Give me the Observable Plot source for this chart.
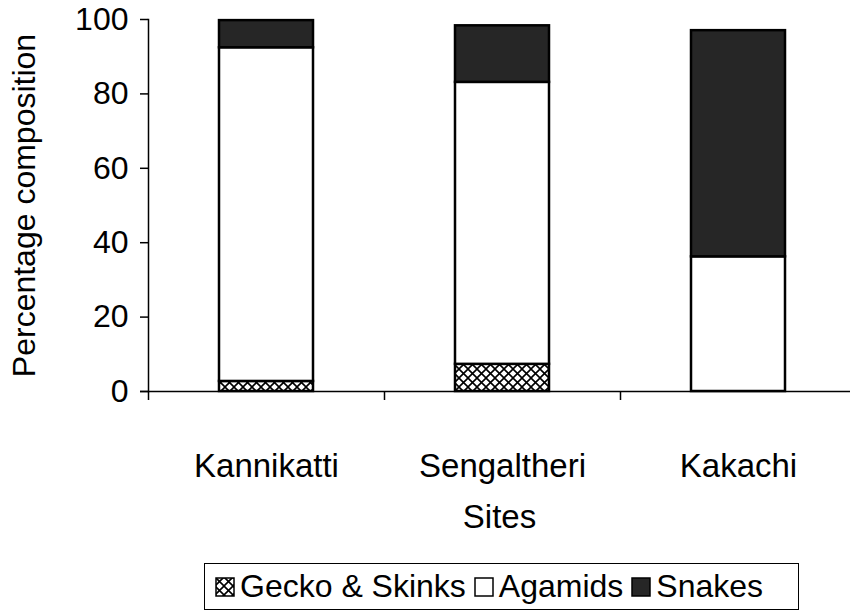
<!DOCTYPE html>
<html>
<head>
<meta charset="utf-8">
<script src="https://cdn.jsdelivr.net/npm/d3@7"></script>
<script src="https://cdn.jsdelivr.net/npm/@observablehq/plot@0.6"></script>
<style>
  html, body { margin: 0; padding: 0; background: white; }
  body { position: relative; width: 850px; height: 616px; overflow: hidden; font-family: "Liberation Sans", Arial, sans-serif; }
  #chart svg { display: block; }
  #legend {
    position: absolute; left: 204px; top: 563px; width: 583px; height: 45px;
    border: 1.5px solid black; box-sizing: content-box;
    display: flex; align-items: center; padding-left: 10px;
    font-size: 32px; color: black; white-space: nowrap;
  }
  .item { display: flex; align-items: center; margin-right: 8px; }
  .item svg { margin-right: 5px; display: block; }
</style>
</head>
<body>
<div id="chart"></div>
<div id="legend"></div>
<script>
// Data
const sites = ["Kannikatti", "Sengaltheri", "Kakachi"];
const species = ["Gecko & Skinks", "Agamids", "Snakes"];
const gecko = [2.7, 7.3, 0];
const agamids = [89.7, 75.8, 36.2];
const snakes = [7.3, 15.2, 60.8];
const yTicks = [0, 20, 40, 60, 80, 100];

const fills = ["url(#hatch)", "white", "#262626"];

const series = [gecko, agamids, snakes];
const data = [];
sites.forEach((site, i) => {
  species.forEach((sp, j) => data.push({site, species: sp, value: series[j][i]}));
});

const xRange = [148, 856];
const step = (xRange[1] - xRange[0]) / sites.length;

const chart = Plot.plot({
  width: 850,
  height: 563,
  marginLeft: 148,
  marginRight: 0,
  marginTop: 19,
  marginBottom: 172,
  style: {fontFamily: "'Liberation Sans', Arial, sans-serif", fontSize: "33px", color: "black", background: "white"},
  x: {type: "band", domain: sites, range: xRange, paddingInner: 0.6, paddingOuter: 0.3},
  y: {domain: [0, 100]},
  color: {domain: species, range: fills},
  marks: [
    Plot.barY(data, {x: "site", y: "value", fill: "species", stroke: "black", strokeWidth: 2.5}),
    Plot.frame({anchor: "left", stroke: "black", strokeWidth: 1.5}),
    Plot.ruleY([0], {stroke: "black", strokeWidth: 1.5, insetLeft: -8}),
    Plot.axisY(yTicks, {
      tickSize: 8, tickPadding: 12, fontSize: 32, strokeWidth: 1.5,
      label: "Percentage composition", labelAnchor: "center", labelArrow: "none", labelOffset: 136
    }),
    Plot.axisX({tickSize: 0, tickPadding: 62, fontSize: 33,
      label: "Sites", labelAnchor: "center", labelOffset: 136}),
    Plot.axisX({tickSize: 9, strokeWidth: 1.5, dx: -step / 2, text: null, label: null})
  ]
});

// hatch pattern for Gecko & Skinks
const defs = d3.select(chart).insert("defs", ":first-child");
const pat = defs.append("pattern").attr("id", "hatch")
  .attr("patternUnits", "userSpaceOnUse").attr("width", 9).attr("height", 9);
pat.append("rect").attr("width", 9).attr("height", 9).attr("fill", "white");
pat.append("path").attr("d", "M0,0L9,9M9,0L0,9").attr("stroke", "black").attr("stroke-width", 1.6);

document.getElementById("chart").appendChild(chart);

// legend
const legend = d3.select("#legend");
species.forEach((sp, j) => {
  const item = legend.append("div").attr("class", "item");
  const sw = item.append("svg").attr("width", 20).attr("height", 20);
  sw.append("rect").attr("x", 1).attr("y", 1).attr("width", 18).attr("height", 18)
    .attr("fill", fills[j]).attr("stroke", "black").attr("stroke-width", 1.5);
  item.append("span").text(sp);
});
</script>
</body>
</html>
